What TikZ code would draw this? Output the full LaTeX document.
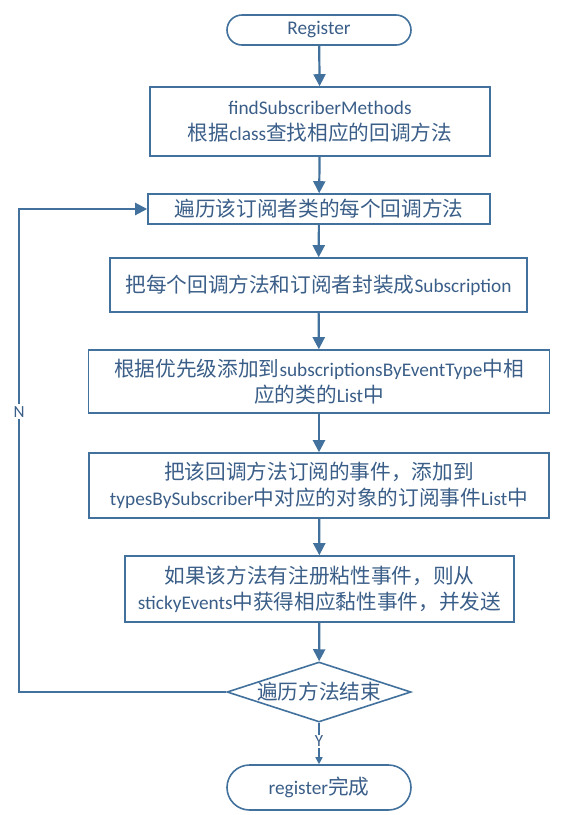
\documentclass[tikz,border=0pt]{standalone}
\usepackage{fontspec}
\setmainfont{Carlito}
\newfontfamily\cjk[Scale=1.07]{Noto Sans CJK SC}
\usetikzlibrary{shapes.geometric,shapes.misc,arrows.meta}
\definecolor{lineblue}{HTML}{41719C}
\definecolor{textblue}{HTML}{3A5E88}
\newcommand{\zh}[1]{{\cjk #1}}
\tikzset{
  base/.style={draw=lineblue,line width=1.6pt,text=textblue,inner sep=0pt,align=center,
    font=\fontsize{19.3}{26}\selectfont},
  procbox/.style={base,rectangle},
  termbox/.style={base,rounded rectangle,minimum width=184pt},
  decbox/.style={base,diamond,aspect=3.07,minimum width=184pt,minimum height=60pt},
  conn/.style={draw=lineblue,line width=2.2pt,-{Triangle[length=12pt,width=12pt]}},
  lab/.style={fill=white,text=textblue,inner sep=2pt,font=\fontsize{17}{18}\selectfont}
}
\begin{document}
\begin{tikzpicture}[x=1pt,y=-1pt]
\useasboundingbox (0,0) rectangle (578,815);
\node[termbox,minimum height=30pt] (reg) at (319,30) {Register};
\node[procbox,minimum width=340pt,minimum height=69pt] (find) at (320,121.5)
  {findSubscriberMethods\\\zh{根据}class\zh{查找相应的回调方法}};
\node[procbox,minimum width=342pt,minimum height=30pt] (loop) at (319,209)
  {\zh{遍历该订阅者类的每个回调方法}};
\node[procbox,minimum width=417pt,minimum height=54pt] (wrap) at (318.5,285)
  {\zh{把每个回调方法和订阅者封装成}Subscription};
\node[procbox,minimum width=461pt,minimum height=63pt] (prio) at (319,381.5)
  {\zh{根据优先级添加到}subscriptionsByEventType\zh{中相}\\\zh{应的类的}List\zh{中}};
\node[procbox,minimum width=460pt,minimum height=65pt] (types) at (319,485.5)
  {\zh{把该回调方法订阅的事件，添加到}\\typesBySubscriber\zh{中对应的对象的订阅事件}List\zh{中}};
\node[procbox,minimum width=389pt,minimum height=66pt] (sticky) at (319.5,589)
  {\zh{如果该方法有注册粘性事件，则从}\\stickyEvents\zh{中获得相应黏性事件，并发送}};
\node[decbox] (dec) at (319,692) {\zh{遍历方法结束}};
\node[termbox,minimum height=45pt] (done) at (319,787.5) {register\zh{完成}};
\coordinate (lb) at (19,692);
\coordinate (lt) at (19,209);
\draw[conn] (reg) -- (find);
\draw[conn] (find) -- (loop);
\draw[conn] (loop) -- (wrap);
\draw[conn] (wrap) -- (prio);
\draw[conn] (prio) -- (types);
\draw[conn] (types) -- (sticky);
\draw[conn] (sticky) -- (dec);
\draw[conn] (dec.west) -- (lb) -- node[lab,pos=0.58]{N} (lt) -- (loop.west);
\draw[draw=lineblue,line width=1.6pt,-{Triangle[length=7pt,width=7pt]}] (dec.south) -- node[lab,pos=0.45,inner sep=1pt]{Y} (done.north);
\end{tikzpicture}
\end{document}
